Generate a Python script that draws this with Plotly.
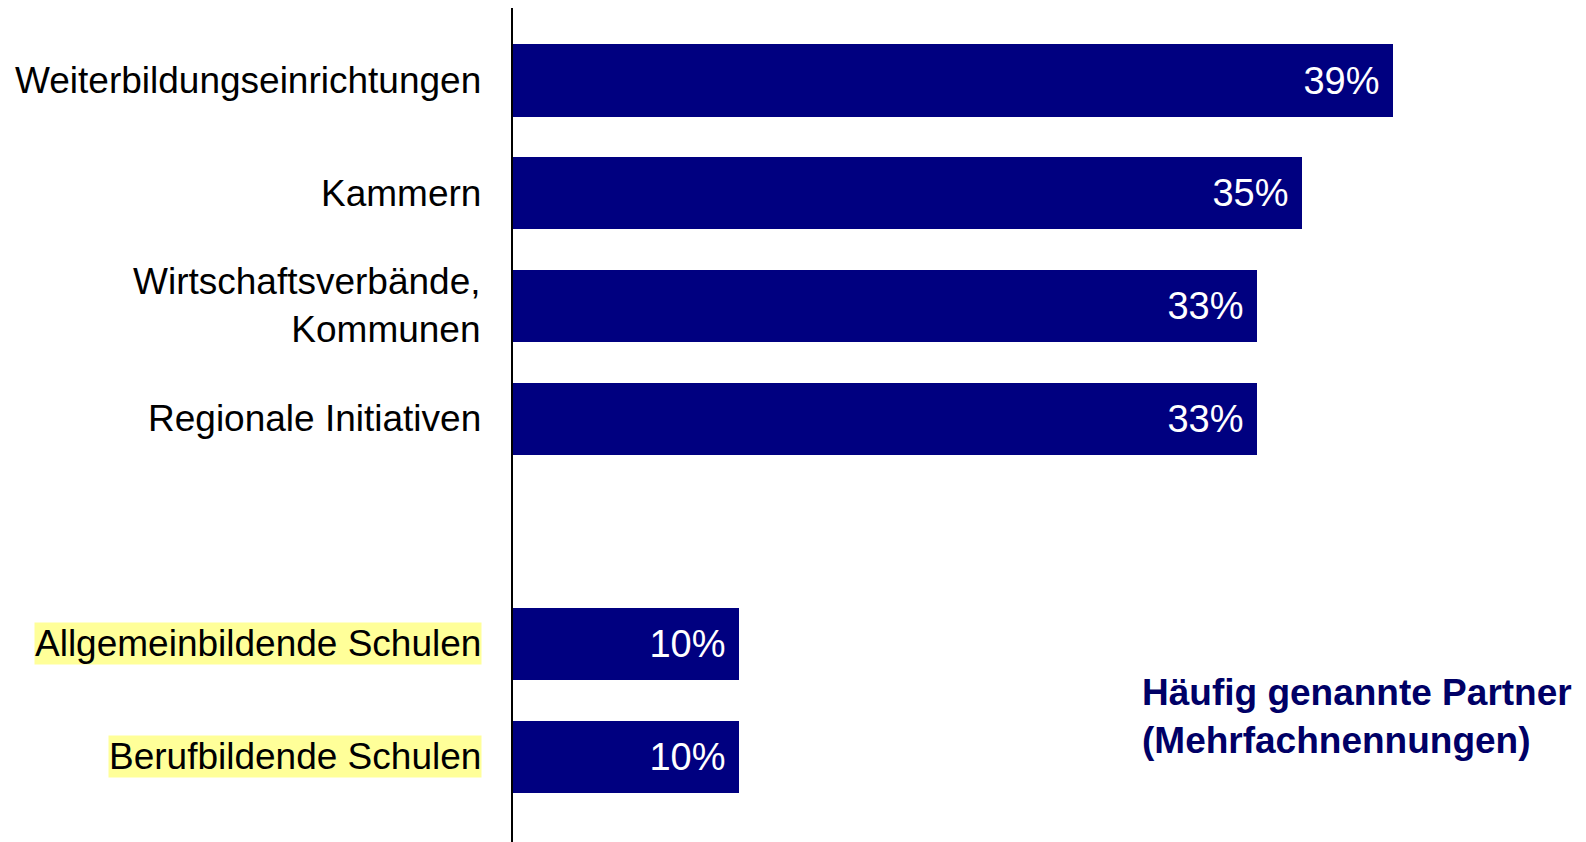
import plotly.graph_objects as go

categories = [
    "Weiterbildungseinrichtungen",
    "Kammern",
    "Wirtschaftsverbände,<br>Kommunen",
    "Regionale Initiativen",
    "Allgemeinbildende Schulen",
    "Berufbildende Schulen",
]
values = [39, 35, 33, 33, 10, 10]
value_labels = ["39%", "35%", "33%", "33%", "10%", "10%"]
highlighted = ["Allgemeinbildende Schulen", "Berufbildende Schulen"]

# empty slot between the two groups
category_order = categories[:4] + [" "] + categories[4:]

FONT = "Liberation Sans, Arial, sans-serif"
NAVY = "#000080"

fig = go.Figure()

fig.add_trace(go.Bar(
    x=values,
    y=categories,
    orientation="h",
    width=0.64,
    marker=dict(color=NAVY, line=dict(width=0)),
    # a non-breaking space keeps the label off the bar end
    text=[t + "\u00a0" for t in value_labels],
    textposition="inside",
    insidetextanchor="end",
    textfont=dict(family=FONT, size=38, color="white"),
    showlegend=False,
    hoverinfo="skip"
))

for cat in categories:
    fig.add_annotation(
        xref="paper",
        yref="y",
        x=0,
        y=cat,
        xshift=-31,
        xanchor="right",
        yanchor="middle",
        align="right",
        text=cat,
        showarrow=False,
        bgcolor="#FFFF99" if cat in highlighted else None,
        borderpad=0,
        font=dict(family=FONT, size=37, color="black")
    )

fig.add_annotation(
    xref="paper",
    yref="paper",
    x=0.584,
    y=0.15,
    xanchor="left",
    yanchor="middle",
    align="left",
    text="<b>Häufig genannte Partner<br>(Mehrfachnennungen)</b>",
    showarrow=False,
    font=dict(family=FONT, size=37, color="#000066")
)

# page body has an 8px margin, so the figure is a bit smaller than the window
fig.update_layout(
    width=1578,
    height=834,
    margin=dict(l=505, r=0, t=0, b=0),
    plot_bgcolor="white",
    paper_bgcolor="white",
    bargap=0,
    xaxis=dict(
        range=[0, 47.58],
        visible=False,
        fixedrange=True
    ),
    yaxis=dict(
        type="category",
        categoryorder="array",
        categoryarray=category_order,
        range=[6.757, -0.643],
        showticklabels=False,
        ticks="",
        showgrid=False,
        zeroline=False,
        showline=True,
        linecolor="black",
        linewidth=2,
        fixedrange=True
    )
)

fig.write_html("out.html", config={"displayModeBar": False})
